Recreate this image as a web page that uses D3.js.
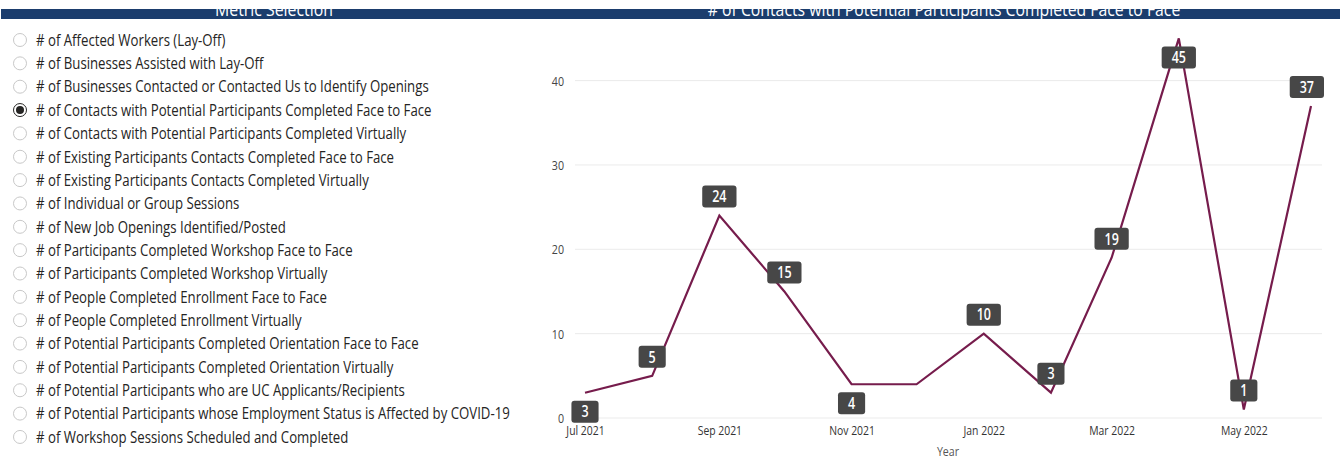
<!DOCTYPE html>
<head>
<meta charset="utf-8">
<style>
body{
  margin:0;
  background:white;
  font-family: "Open Sans", sans-serif;
}
.grid line{ stroke:#ebebeb; stroke-width:1px; }
.item text{ fill:#252423; font-size:16px; }
</style>
</head>
<body>
<svg width="1340" height="461"></svg>
<script src="https://cdnjs.cloudflare.com/ajax/libs/d3/7.8.5/d3.min.js"></script>
<script>

// slicer options
var metrics = [
  "# of Affected Workers (Lay-Off)",
  "# of Businesses Assisted with Lay-Off",
  "# of Businesses Contacted or Contacted Us to Identify Openings",
  "# of Contacts with Potential Participants Completed Face to Face",
  "# of Contacts with Potential Participants Completed Virtually",
  "# of Existing Participants Contacts Completed Face to Face",
  "# of Existing Participants Contacts Completed Virtually",
  "# of Individual or Group Sessions",
  "# of New Job Openings Identified/Posted",
  "# of Participants Completed Workshop Face to Face",
  "# of Participants Completed Workshop Virtually",
  "# of People Completed Enrollment Face to Face",
  "# of People Completed Enrollment Virtually",
  "# of Potential Participants Completed Orientation Face to Face",
  "# of Potential Participants Completed Orientation Virtually",
  "# of Potential Participants who are UC Applicants/Recipients",
  "# of Potential Participants whose Employment Status is Affected by COVID-19",
  "# of Workshop Sessions Scheduled and Completed"
];
var selected = 3;

// monthly values
var months = ["2021-07","2021-08","2021-09","2021-10","2021-11","2021-12",
              "2022-01","2022-02","2022-03","2022-04","2022-05","2022-06"];
var values = [3, 5, 24, 15, 4, 4, 10, 3, 19, 45, 1, 37];
var yTicks = [0, 10, 20, 30, 40];

// where each data label goes (null = hidden)
var labelSide = ["below","above","above","above","below",null,
                 "above","above","above","below","above","above"];

var svg = d3.select("svg");
var parse = d3.timeParse("%Y-%m");
var data = months.map((m, i) => ({date: parse(m), value: values[i], side: labelSide[i]}));

// header band
svg.append("clipPath").attr("id", "band")
  .append("rect").attr("x", 0).attr("y", 9).attr("width", 1340).attr("height", 10);
svg.append("rect")
  .attr("x", 1).attr("y", 9).attr("width", 1339).attr("height", 10)
  .attr("fill", "#1b3d6d");
var head = svg.append("g").attr("clip-path", "url(#band)")
  .attr("fill", "white").attr("font-size", 19);
head.append("text").attr("x", 274).attr("y", 15.5).attr("text-anchor", "middle")
  .text("Metric Selection");
head.append("text").attr("x", 944).attr("y", 15.5).attr("text-anchor", "middle")
  .text(metrics[selected]);

// squeeze text horizontally to a target width
function squeeze(sel, target, ax) {
  var w = sel.node().getComputedTextLength();
  var k = target / w;
  sel.attr("transform", `translate(${ax},0) scale(${k},1) translate(${-ax},0)`);
  return k;
}
head.selectAll("text").each(function(d, i) {
  squeeze(d3.select(this), i === 0 ? 118 : 473, i === 0 ? 274 : 944);
});

// slicer list
var list = svg.append("g");
var item = list.selectAll(".item")
  .data(metrics)
  .enter().append("g")
  .attr("class", "item")
  .attr("transform", (d, i) => `translate(0,${40 + i * 23.35})`);

item.append("circle")
  .attr("cx", 20).attr("r", 6.5)
  .attr("fill", "white")
  .attr("stroke", (d, i) => i === selected ? "#252423" : "#c8c8c8")
  .attr("stroke-width", 1);
item.filter((d, i) => i === selected).append("circle")
  .attr("cx", 20).attr("r", 4).attr("fill", "#252423");

var labels = item.append("text")
  .attr("x", 36).attr("dy", "0.36em")
  .text(d => d);
var k = 396 / labels.filter((d, i) => i === selected).node().getComputedTextLength();
labels.attr("transform", `translate(36,0) scale(${k},1) translate(-36,0)`);

// line chart
var x = d3.scaleTime()
  .domain([parse("2021-07"), parse("2022-06")])
  .range([585, 1311]);
var y = d3.scaleLinear()
  .domain([0, 45])
  .range([418, 418 - 45 * 8.435]);

var grid = svg.append("g").attr("class", "grid");
grid.selectAll("line").data(yTicks).enter().append("line")
  .attr("x1", 575).attr("x2", 1322)
  .attr("y1", d => y(d)).attr("y2", d => y(d));

var yAxis = svg.append("g")
  .attr("transform", "translate(564,0)")
  .call(d3.axisLeft(y).tickValues(yTicks).tickSize(0).tickPadding(0));
yAxis.select(".domain").remove();
yAxis.selectAll("text").attr("dy", "0.35em")
  .style("font-family", "'Open Sans', sans-serif").style("font-size", "13px")
  .attr("fill", "#444")
  .attr("transform", "scale(0.82,1)");

var xAxis = svg.append("g")
  .attr("transform", "translate(0,425)")
  .call(d3.axisBottom(x).ticks(d3.timeMonth.every(2))
    .tickFormat(d3.timeFormat("%b %Y")).tickSize(0).tickPadding(0));
xAxis.select(".domain").remove();
xAxis.selectAll("text").attr("dy", "0.75em")
  .style("font-family", "'Open Sans', sans-serif").style("font-size", "13px")
  .attr("fill", "#333")
  .attr("transform", "scale(0.8,1)");

svg.append("text")
  .attr("x", 948).attr("y", 456)
  .attr("text-anchor", "middle")
  .attr("fill", "#555").attr("font-size", 13)
  .attr("transform", "translate(948,0) scale(0.82,1) translate(-948,0)")
  .text("Year");

var line = d3.line()
  .x(d => x(d.date))
  .y(d => y(d.value));

svg.append("path")
  .datum(data)
  .attr("fill", "none")
  .attr("stroke", "#761c4c")
  .attr("stroke-width", 2.2)
  .attr("stroke-linejoin", "miter")
  .attr("d", line);

// data labels
var tag = svg.selectAll(".tag")
  .data(data.filter(d => d.side))
  .enter().append("g")
  .attr("class", "tag");

tag.each(function(d) {
  var g = d3.select(this);
  var t = g.append("text")
    .attr("text-anchor", "middle")
    .attr("dy", "0.36em")
    .attr("fill", "white")
    .attr("font-size", 16)
    .attr("font-weight", 600)
    .text(d.value);
  var w = t.node().getComputedTextLength() * 0.78 + 20;
  var cx = Math.min(x(d.date), 1324 - w / 2);
  var cy = y(d.value) + (d.side === "above" ? -19 : 19);
  g.attr("transform", `translate(${cx},${cy})`);
  t.attr("transform", "scale(0.78,1)");
  g.insert("rect", "text")
    .attr("x", -w / 2).attr("y", -11)
    .attr("width", w).attr("height", 22)
    .attr("rx", 3)
    .attr("fill", "#474747");
});

</script>
</body>
